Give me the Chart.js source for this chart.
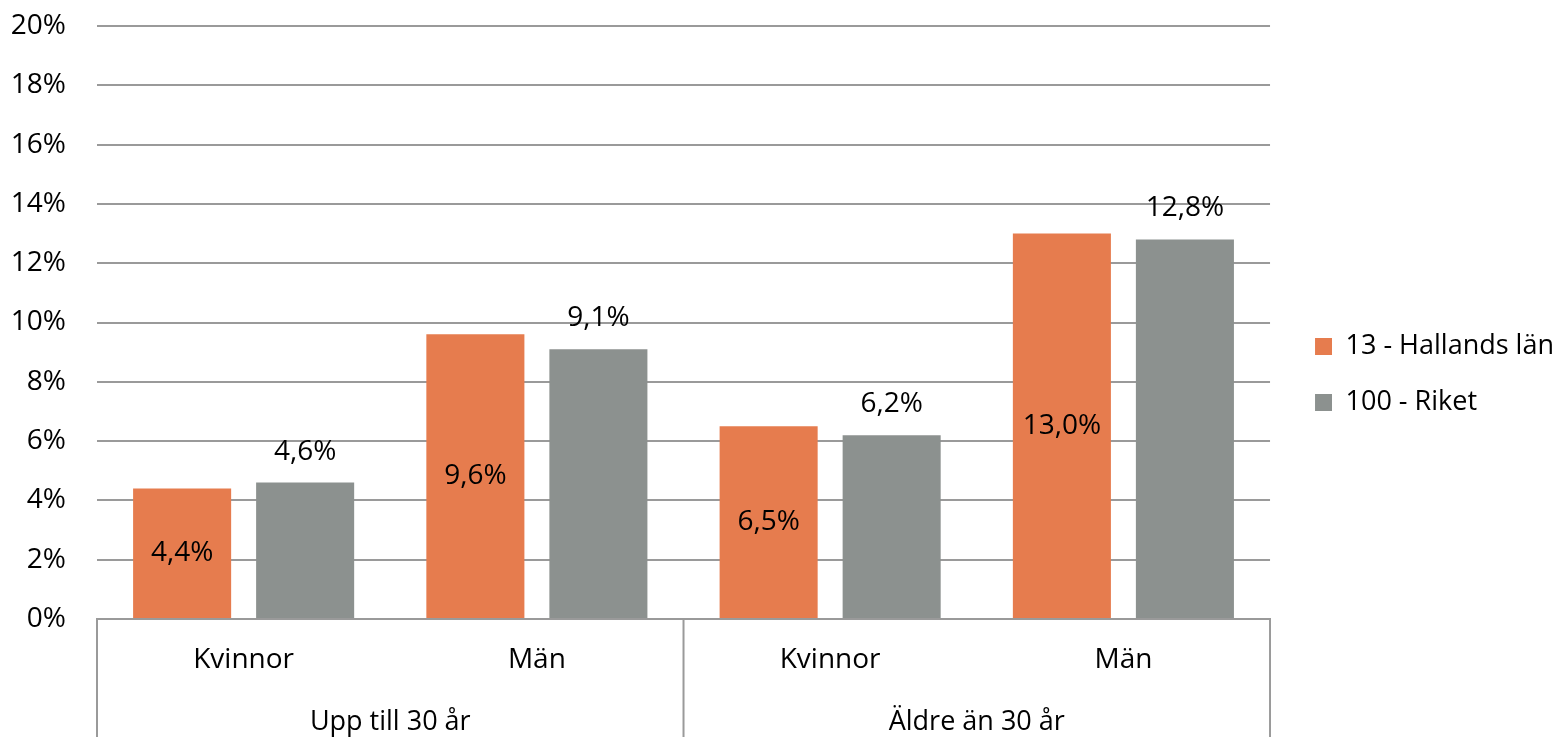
<!DOCTYPE html>
<html lang="sv">
<head>
<meta charset="utf-8">
<title>Andel per åldersgrupp och kön</title>
<script src="https://cdn.jsdelivr.net/npm/chart.js@4.4.1/dist/chart.umd.min.js"></script>
<style>
  html, body { margin: 0; padding: 0; background: #fff; }
  #chart { display: block; }
</style>
</head>
<body>
<canvas id="chart" width="1558" height="737"></canvas>
<script>
  const categories = ['Kvinnor', 'Män', 'Kvinnor', 'Män'];
  const groups = ['Upp till 30 år', 'Äldre än 30 år'];
  const halland = [4.4, 9.6, 6.5, 13.0];
  const riket = [4.6, 9.1, 6.2, 12.8];
  const seriesNames = ['13 - Hallands län', '100 - Riket'];

  const FONT = '"Open Sans", "Noto Sans", sans-serif';
  const LINE = '#9a9a9a';

  const fmt = v => v.toFixed(1).replace('.', ',') + '%';

  // value labels: inside the bar for the first series, above it for the second
  const valueLabels = {
      id: 'valueLabels',
      afterDatasetsDraw(chart) {
          const ctx = chart.ctx;
          ctx.save();
          ctx.font = '28px ' + FONT;
          ctx.fillStyle = '#000';
          ctx.textAlign = 'center';
          ctx.textBaseline = 'middle';
          chart.data.datasets.forEach((ds, i) => {
              const meta = chart.getDatasetMeta(i);
              meta.data.forEach((bar, j) => {
                  const v = ds.data[j];
                  const y = i === 0 ? (bar.y + bar.base) / 2 : bar.y - 31;
                  ctx.fillText(fmt(v), bar.x, y);
              });
          });
          ctx.restore();
      }
  };

  // vertical separators between the two age groups below the plot
  const groupLines = {
      id: 'groupLines',
      afterDraw(chart) {
          const { ctx, chartArea } = chart;
          const x = chart.scales.x;
          const mid = (x.getPixelForValue(1) + x.getPixelForValue(2)) / 2;
          ctx.save();
          ctx.strokeStyle = LINE;
          ctx.lineWidth = 2;
          [chartArea.left, mid, chartArea.right].forEach(px => {
              ctx.beginPath();
              ctx.moveTo(px, chartArea.bottom);
              ctx.lineTo(px, chart.height);
              ctx.stroke();
          });
          ctx.restore();
      }
  };

  const ctx = document.getElementById('chart').getContext('2d');
  new Chart(ctx, {
      type: 'bar',
      data: {
          labels: categories,
          datasets: [{
              label: seriesNames[0],
              data: halland,
              backgroundColor: '#e67c4e',
              categoryPercentage: 0.839,
              barPercentage: 0.797
          }, {
              label: seriesNames[1],
              data: riket,
              backgroundColor: '#8c918f',
              categoryPercentage: 0.839,
              barPercentage: 0.797
          }]
      },
      options: {
          responsive: false,
          animation: false,
          devicePixelRatio: 1,
          layout: { padding: { left: 0, top: 12, right: -6, bottom: 0 } },
          plugins: {
              legend: {
                  position: 'right',
                  maxWidth: 320,
                  labels: {
                      boxWidth: 17,
                      boxHeight: 17,
                      padding: 29,
                      color: '#000',
                      font: { family: FONT, size: 27 }
                  }
              },
              tooltip: { enabled: false }
          },
          scales: {
              y: {
                  min: 0,
                  max: 20,
                  afterFit: s => { s.width = 97; s.paddingTop = 26; },
                  ticks: {
                      stepSize: 2,
                      padding: 31,
                      color: '#000',
                      font: { family: FONT, size: 28 },
                      callback: v => v + '%'
                  },
                  grid: { color: LINE, lineWidth: 2, drawTicks: false },
                  border: { display: false }
              },
              // empty gap between the plot and the legend
              gap: {
                  position: 'right',
                  afterFit: s => { s.width = 16; },
                  grid: { display: false, drawTicks: false },
                  ticks: { display: false },
                  border: { display: false }
              },
              x: {
                  afterFit: s => { s.height = 80; },
                  ticks: {
                      padding: 24,
                      color: '#000',
                      font: { family: FONT, size: 28 }
                  },
                  grid: { display: false, drawTicks: false },
                  border: { display: true, color: LINE, width: 2 }
              },
              x2: {
                  type: 'category',
                  position: 'bottom',
                  labels: groups,
                  afterFit: s => { s.height = 38; },
                  ticks: {
                      padding: 7,
                      color: '#000',
                      font: { family: FONT, size: 27 }
                  },
                  grid: { display: false, drawTicks: false },
                  border: { display: false }
              }
          }
      },
      plugins: [valueLabels, groupLines]
  });
</script>
</body>
</html>
